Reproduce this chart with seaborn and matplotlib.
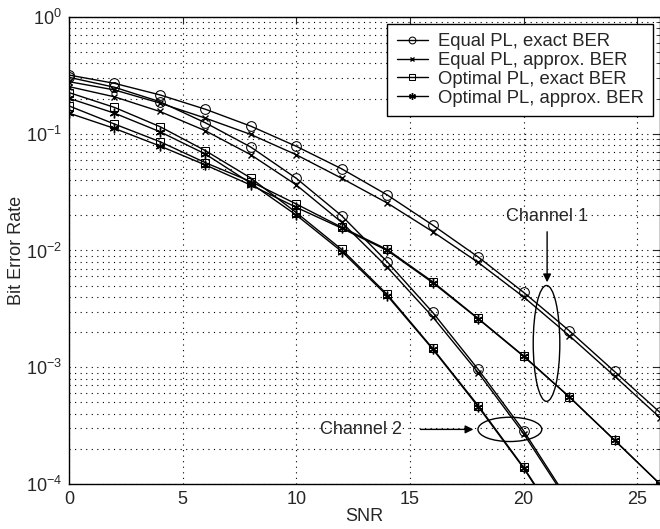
import matplotlib
matplotlib.use("Agg")
import matplotlib.pyplot as plt
from matplotlib.patches import Ellipse
from matplotlib.ticker import LogLocator, NullFormatter
import seaborn as sns
import numpy as np

# SNR grid
snr = [0, 2, 4, 6, 8, 10, 12, 14, 16, 18, 20, 22, 24, 26]

# Channel 1
ch1_equal_exact = [0.318, 0.270, 0.215, 0.162, 0.116, 0.078, 0.050, 0.0299, 0.0165, 0.0088, 0.00438, 0.00206, 0.00092, 0.00041]
ch1_equal_approx = [0.279, 0.237, 0.183, 0.136, 0.0985, 0.066, 0.0415, 0.0255, 0.0145, 0.0079, 0.0040, 0.00187, 0.00084, 0.00037]
ch1_opt_exact = [0.173, 0.121, 0.0855, 0.0565, 0.0389, 0.025, 0.0158, 0.0102, 0.0054, 0.00262, 0.00125, 0.00056, 0.000238, 0.0001]
ch1_opt_approx = [0.150, 0.111, 0.0785, 0.054, 0.0363, 0.0234, 0.0155, 0.0100, 0.0053, 0.0026, 0.00124, 0.00056, 0.000237, 0.0001]

# Channel 2
ch2_equal_exact = [0.304, 0.250, 0.188, 0.124, 0.0768, 0.0415, 0.0198, 0.0080, 0.00295, 0.00096, 0.000286, 7.1e-5, 1.6e-5, 3e-6]
ch2_equal_approx = [0.253, 0.207, 0.155, 0.106, 0.066, 0.0364, 0.0174, 0.0072, 0.0027, 0.00090, 0.000270, 6.8e-5, 1.5e-5, 2.8e-6]
ch2_opt_exact = [0.225, 0.168, 0.115, 0.0716, 0.0417, 0.0211, 0.0102, 0.0042, 0.00145, 0.00047, 0.000139, 3.5e-5, 1e-5, 2.5e-6]
ch2_opt_approx = [0.201, 0.150, 0.104, 0.067, 0.0376, 0.0201, 0.0098, 0.0041, 0.00143, 0.00046, 0.000137, 3.4e-5, 1e-5, 2.5e-6]

labels = ["Equal PL, exact BER", "Equal PL, approx. BER",
          "Optimal PL, exact BER", "Optimal PL, approx. BER"]

sns.set_style("white")
plt.rcParams['font.family'] = ['Liberation Sans', 'DejaVu Sans']
plt.rcParams['mathtext.fontset'] = 'custom'
plt.rcParams['mathtext.rm'] = 'Liberation Sans'
plt.rcParams['mathtext.it'] = 'Liberation Sans:italic'

fig = plt.figure(figsize=(6.6, 5.29), dpi=100)
ax = fig.add_axes([0.1045, 0.085, 0.8955, 0.883])

styles = [
    dict(marker='o', markersize=7, markerfacecolor='none', markeredgecolor='k'),
    dict(marker='x', markersize=5, markeredgecolor='k', markeredgewidth=1),
    dict(marker='s', markersize=6, markerfacecolor='none', markeredgecolor='k'),
    dict(marker=(6, 2, 0), markersize=7, markeredgecolor='k', markeredgewidth=1),
]

series1 = [ch1_equal_exact, ch1_equal_approx, ch1_opt_exact, ch1_opt_approx]
series2 = [ch2_equal_exact, ch2_equal_approx, ch2_opt_exact, ch2_opt_approx]

for vals, st, lab in zip(series1, styles, labels):
    sns.lineplot(x=snr, y=vals, ax=ax, color='k', linewidth=1, label=lab, **st)
for vals, st in zip(series2, styles):
    sns.lineplot(x=snr, y=vals, ax=ax, color='k', linewidth=1, **st)

ax.set_yscale('log')
ax.set_xlim(0, 26)
ax.set_ylim(1e-4, 1)
ax.set_xticks([0, 5, 10, 15, 20, 25])
ax.yaxis.set_minor_locator(LogLocator(base=10, subs=np.arange(2, 10)))
ax.yaxis.set_minor_formatter(NullFormatter())
ax.tick_params(which='both', direction='in', top=True, right=True, labelsize=13)
ax.tick_params(which='major', length=5, pad=5)
ax.tick_params(which='minor', length=3)
dots = (0, (1, 4))
ax.grid(True, which='major', linestyle=dots, color='k', linewidth=0.8)
ax.grid(True, which='minor', axis='y', linestyle=dots, color='k', linewidth=0.8)
for sp in ax.spines.values():
    sp.set_color('k')
    sp.set_linewidth(1)

ax.set_xlabel("SNR", fontsize=13, labelpad=0)
ax.set_ylabel("Bit Error Rate", fontsize=13)
ax.yaxis.set_label_coords(-0.074, 0.5)

leg = ax.legend(loc='upper right', bbox_to_anchor=(0.989, 0.985), fontsize=13.3,
                frameon=True, fancybox=False, edgecolor='k', framealpha=1,
                handlelength=1.7, borderpad=0.5, labelspacing=0.1, markerscale=0.7,
                handletextpad=0.55, borderaxespad=0)
leg.get_frame().set_linewidth(1)

# annotations
ax.text(0.809, 0.572, "Channel 1", transform=ax.transAxes, ha='center', va='center', fontsize=13)
ax.annotate("", xy=(0.809, 0.426), xytext=(0.809, 0.546), xycoords='axes fraction',
            arrowprops=dict(arrowstyle='-|>', color='k', lw=1, mutation_scale=12))
ax.add_patch(Ellipse((0.808, 0.301), 0.045, 0.248, transform=ax.transAxes,
                     fill=False, edgecolor='k', lw=1))

ax.text(0.563, 0.117, "Channel 2", transform=ax.transAxes, ha='right', va='center', fontsize=13)
ax.annotate("", xy=(0.689, 0.117), xytext=(0.59, 0.117), xycoords='axes fraction',
            arrowprops=dict(arrowstyle='-|>', color='k', lw=1, mutation_scale=12))
ax.add_patch(Ellipse((0.746, 0.117), 0.108, 0.052, transform=ax.transAxes,
                     fill=False, edgecolor='k', lw=1))

fig.savefig("out.png", dpi=100)
